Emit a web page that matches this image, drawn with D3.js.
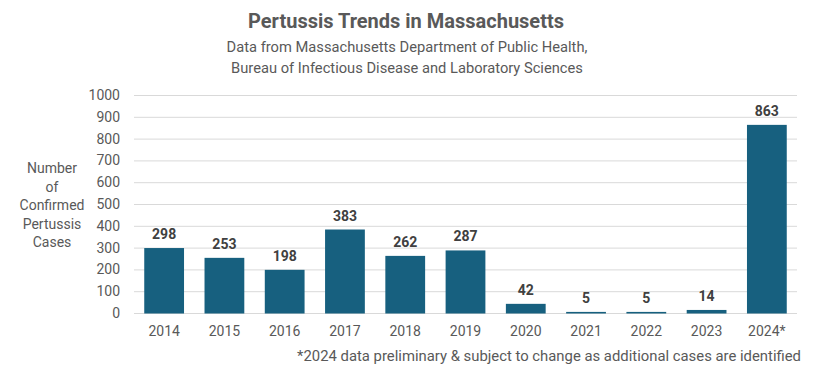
<!DOCTYPE html>
<html><head><meta charset="utf-8">
<script src="https://cdn.jsdelivr.net/npm/d3@7"></script>
<style>body{margin:0;background:#fff;} text{font-family:Roboto,sans-serif;}</style>
</head><body>
<svg id="c" width="813" height="383"></svg>
<script>
const categories = ["2014","2015","2016","2017","2018","2019","2020","2021","2022","2023","2024*"];
const cases = [298,253,198,383,262,287,42,5,5,14,863];
const yTicks = [0,100,200,300,400,500,600,700,800,900,1000];
const title = "Pertussis Trends in Massachusetts";
const subtitle = ["Data from Massachusetts Department of Public Health,","Bureau of Infectious Disease and Laboratory Sciences"];
const yTitle = ["Number","of","Confirmed","Pertussis","Cases"];
const footnote = "*2024 data preliminary & subject to change as additional cases are identified";

(function(){
const svg = d3.select("#c");
const txt = "#595959";
const F = "Roboto";
const pl = 134, pr = 797, pt = 95, pb = 313;
const x = d3.scaleBand().domain(categories).range([pl,pr]).paddingInner(0.34).paddingOuter(0.17);
const y = d3.scaleLinear().domain([0,1000]).range([pb,pt]);

svg.append("g").selectAll("line").data(yTicks).join("line")
  .attr("x1",pl).attr("x2",pr).attr("y1",d=>y(d)+0.5).attr("y2",d=>y(d)+0.5)
  .attr("stroke","#d9d9d9").attr("stroke-width",1);

const yAxis = d3.axisLeft(y).tickValues(yTicks).tickSize(0).tickPadding(14).tickFormat(d3.format("d"));
const ga = svg.append("g").attr("transform",`translate(${pl},0)`).call(yAxis);
ga.select(".domain").remove();
ga.selectAll("text").attr("font-size",14).attr("fill",txt).attr("font-family",F);

svg.append("g").selectAll("rect").data(cases).join("rect")
  .attr("x",(d,i)=>x(categories[i])).attr("width",x.bandwidth())
  .attr("y",d=>y(d)).attr("height",d=>pb-y(d)+0.5)
  .attr("fill","#17607f");

svg.append("g").selectAll("text").data(cases).join("text")
  .attr("x",(d,i)=>x(categories[i])+x.bandwidth()/2).attr("y",d=>y(d)-9)
  .attr("text-anchor","middle").attr("font-size",14).attr("font-weight","bold").attr("fill","#404040")
  .text(d=>d);

const xAxis = d3.axisBottom(x).tickSize(0).tickPadding(13);
const gx = svg.append("g").attr("transform",`translate(0,${pb})`).call(xAxis);
gx.select(".domain").remove();
gx.selectAll("text").attr("font-size",14).attr("fill",txt).attr("font-family",F);

svg.append("text").attr("x",406).attr("y",28).attr("text-anchor","middle")
  .attr("font-size",20).attr("font-weight","bold").attr("fill",txt).text(title);
svg.append("g").selectAll("text").data(subtitle).join("text")
  .attr("x",407).attr("y",(d,i)=>52+i*21).attr("text-anchor","middle")
  .attr("font-size",14.7).attr("fill",txt).text(d=>d);

svg.append("g").selectAll("text").data(yTitle).join("text")
  .attr("x",52).attr("y",(d,i)=>173+i*18.5).attr("text-anchor","middle")
  .attr("font-size",14).attr("fill",txt).text(d=>d);

svg.append("text").attr("x",801).attr("y",361).attr("text-anchor","end")
  .attr("font-size",14.85).attr("fill",txt).text(footnote);
})();
</script>
</body></html>
